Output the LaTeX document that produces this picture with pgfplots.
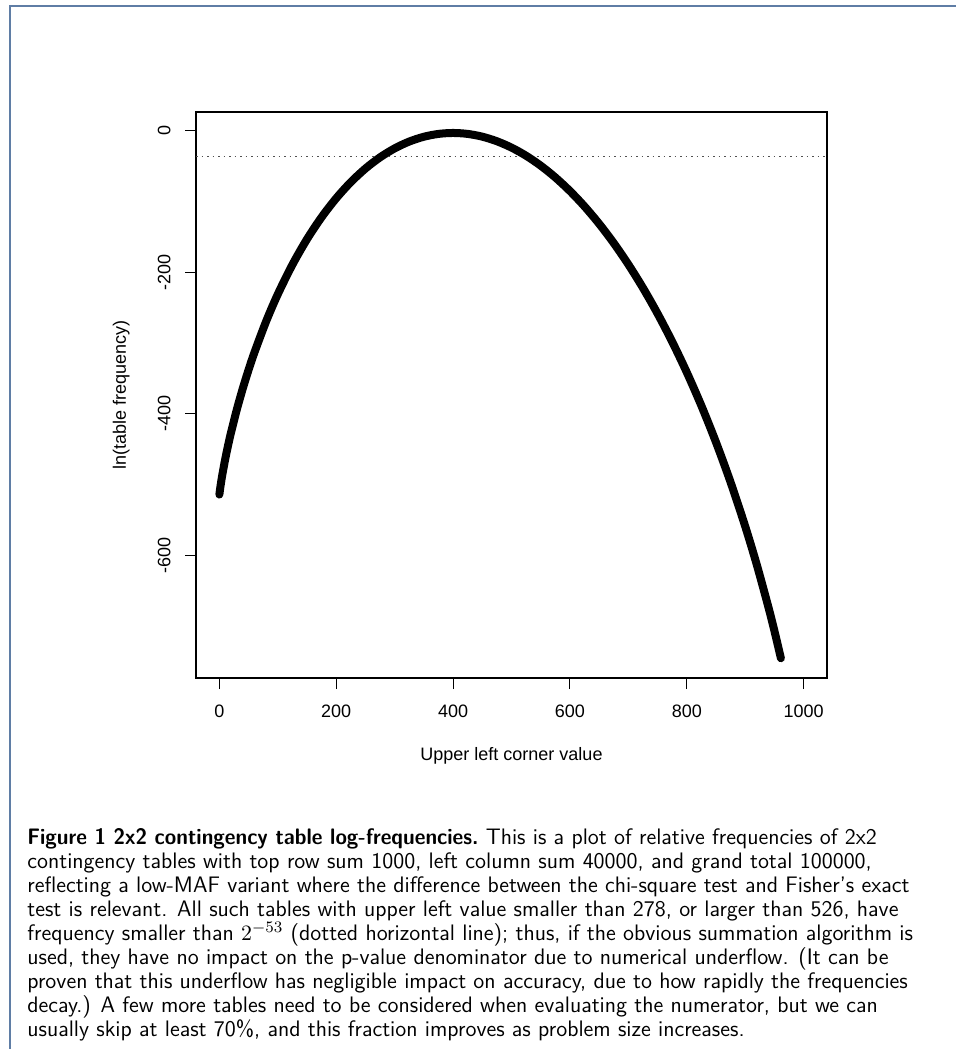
\documentclass[border=0pt]{standalone}
\usepackage{fontspec}
\usepackage{graphicx}
\usepackage{pgfplots}
\pgfplotsset{compat=1.18}
\newfontfamily\helv{Liberation Sans}
\definecolor{framecol}{RGB}{95,125,165}
\definecolor{dotcol}{RGB}{80,80,80}
\begin{document}
\begin{tikzpicture}
\path[use as bounding box] (0,0) rectangle (478pt,-524.5pt);
\fill[white] (0,0) rectangle (478pt,-524.5pt);
\draw[framecol, line width=1pt] (4.75pt,-524.5pt) -- (4.75pt,-2.75pt) -- (478pt,-2.75pt);
\begin{axis}[
  at={(98pt,-56pt)}, anchor=north west,
  scale only axis, width=315.5pt, height=283pt,
  xmin=-40, xmax=1040, ymin=-773.2, ymax=25.95,
  xtick={0,200,400,600,800,1000},
  xticklabels={0,200,400,600,800,1000},
  ytick={0,-200,-400,-600},
  yticklabels={0,-200,-400,-600},
  xtick pos=left, ytick pos=left,
  tick align=outside, major tick length=5.5pt,
  tick style={black, line width=0.5pt},
  axis line style={line width=0.6pt},
  ticklabel style={font=\helv\fontsize{9}{10}\selectfont, inner sep=0pt},
  xticklabel style={anchor=north, yshift=-8pt},
  yticklabel style={rotate=90, anchor=south, yshift=7pt},
  xlabel={Upper left corner value},
  ylabel={ln(table frequency)},
  label style={font=\helv\fontsize{9}{10}\selectfont, inner sep=0pt},
  xlabel style={at={(axis description cs:0.5,0)}, anchor=north, yshift=-34.5pt},
  ylabel style={at={(axis description cs:0,0.5)}, anchor=south, yshift=33pt},
]
\addplot[dotcol, line width=0.5pt, dash pattern=on 0.9pt off 1.85pt] coordinates {(-40,-36.74) (1040,-36.74)};
\addplot[black, line width=4pt, line cap=round, line join=round, smooth, tension=0.5] coordinates {
(0,-514.19) (1,-507.67) (2,-501.85) (3,-496.43) (5,-486.40) (10,-464.15) (15,-444.42)
(20,-426.35) (30,-393.74) (40,-364.57) (50,-338.01) (60,-313.56) (80,-269.72)
(100,-231.36) (125,-189.60) (150,-153.60) (175,-122.53) (200,-95.82) (225,-73.04)
(250,-53.87) (275,-38.06) (300,-25.41) (325,-15.76) (350,-8.98) (375,-4.98)
(400,-3.66) (425,-4.98) (450,-8.88) (475,-15.33) (500,-24.31) (525,-35.81)
(550,-49.84) (575,-66.43) (600,-85.60) (625,-107.40) (650,-131.88) (675,-159.14)
(700,-189.28) (725,-222.41) (750,-258.71) (775,-298.36) (800,-341.63) (825,-388.82)
(850,-440.38) (875,-496.86) (900,-559.10) (920,-613.86) (940,-674.08) (950,-706.73)
(960,-741.48) (961,-745.09)
};
\end{axis}
\node[anchor=north west, inner sep=0pt, align=left, font=\sffamily\fontsize{11.2}{12}\selectfont] at (13.5pt,-414.2pt) {%
\scalebox{0.93}[1]{\textbf{Figure 1 2x2 contingency table log-frequencies.}} This is a plot of relative frequencies of 2x2\\
contingency tables with top row sum 1000, left column sum 40000, and grand total 100000,\\
reflecting a low-MAF variant where the difference between the chi-square test and Fisher's exact\\
test is relevant. All such tables with upper left value smaller than 278, or larger than 526, have\\
frequency smaller than $2^{-53}$ (dotted horizontal line); thus, if the obvious summation algorithm is\\
used, they have no impact on the p-value denominator due to numerical underflow. (It can be\\
proven that this underflow has negligible impact on accuracy, due to how rapidly the frequencies\\
decay.) A few more tables need to be considered when evaluating the numerator, but we can\\
usually skip at least 70\%, and this fraction improves as problem size increases.};
\end{tikzpicture}
\end{document}
